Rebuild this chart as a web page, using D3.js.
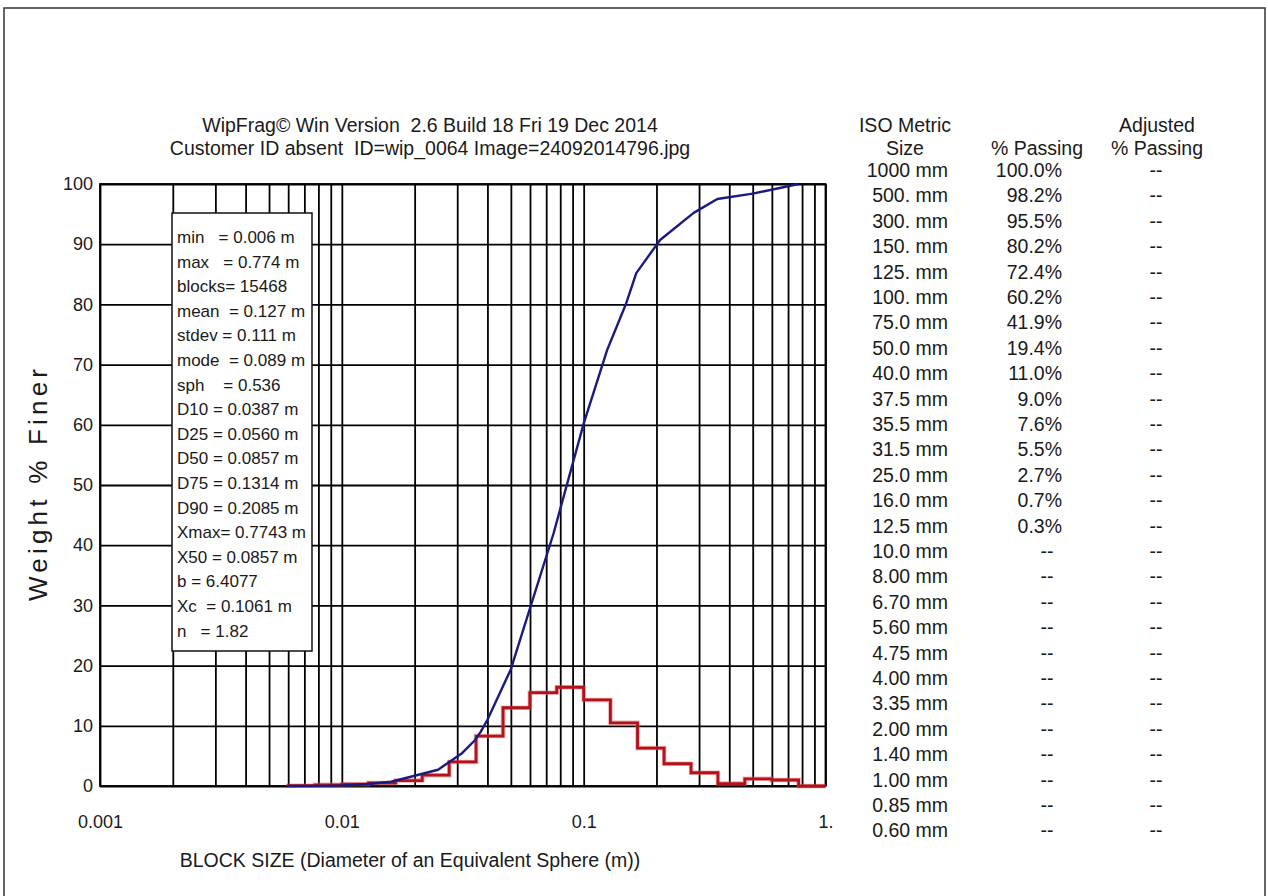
<!DOCTYPE html>
<html>
<head>
<meta charset="utf-8">
<script src="https://cdn.jsdelivr.net/npm/d3@7"></script>
<style>
  html, body { margin: 0; padding: 0; background: #fff; }
  svg { display: block; }
  text { font-family: "Liberation Sans", Arial, sans-serif; fill: #1a1a1a; white-space: pre; }
</style>
</head>
<body>
<svg id="chart" width="1268" height="896"></svg>
<script>
// ---------------- DATA ----------------
const titleLines = [
  "WipFrag\u00A9 Win Version  2.6 Build 18 Fri 19 Dec 2014",
  "Customer ID absent  ID=wip_0064 Image=24092014796.jpg"
];
const xTickValues = [0.001, 0.01, 0.1, 1];
const xTickLabels = ["0.001", "0.01", "0.1", "1."];
const yTickValues = [0, 10, 20, 30, 40, 50, 60, 70, 80, 90, 100];

// cumulative % passing curve (size in m, % finer)
const cumSizes   = [0.006, 0.008, 0.01, 0.0125, 0.016, 0.025, 0.0315, 0.0355, 0.0375, 0.04, 0.05, 0.075, 0.1, 0.125, 0.15, 0.165, 0.207, 0.285, 0.357, 0.5, 0.774];
const cumPassing = [0,     0.02,  0.08, 0.3,    0.7,   2.7,   5.5,    7.6,    9.0,    11.0, 19.4, 41.9,  60.2, 72.4,  80.2, 85.2,  90.7,  95.2,  97.5,  98.4, 100];

// histogram (% weight in each size class)
const binEdges = [0.006, 0.00774, 0.01, 0.0129, 0.0167, 0.0215, 0.0278, 0.0359, 0.0464, 0.0599, 0.0774, 0.1, 0.129, 0.167, 0.215, 0.278, 0.359, 0.464, 0.599, 0.774, 1.0];
const binWeights = [0.05, 0.2, 0.3, 0.5, 0.9, 1.8, 4.0, 8.3, 13.0, 15.5, 16.4, 14.3, 10.5, 6.3, 3.7, 2.2, 0.4, 1.2, 1.0, 0.0];

const statLines = [
  "min   = 0.006 m", "max   = 0.774 m", "blocks= 15468", "mean  = 0.127 m",
  "stdev = 0.111 m", "mode  = 0.089 m", "sph    = 0.536", "D10 = 0.0387 m",
  "D25 = 0.0560 m", "D50 = 0.0857 m", "D75 = 0.1314 m", "D90 = 0.2085 m",
  "Xmax= 0.7743 m", "X50 = 0.0857 m", "b = 6.4077", "Xc  = 0.1061 m", "n   = 1.82"
];

const tableHeader1 = ["ISO Metric", "", "Adjusted"];
const tableHeader2 = ["Size", "% Passing", "% Passing"];
const isoSizes = ["1000 mm","500. mm","300. mm","150. mm","125. mm","100. mm","75.0 mm","50.0 mm","40.0 mm","37.5 mm","35.5 mm","31.5 mm","25.0 mm","16.0 mm","12.5 mm","10.0 mm","8.00 mm","6.70 mm","5.60 mm","4.75 mm","4.00 mm","3.35 mm","2.00 mm","1.40 mm","1.00 mm","0.85 mm","0.60 mm"];
const isoPassing = ["100.0%","98.2%","95.5%","80.2%","72.4%","60.2%","41.9%","19.4%","11.0%","9.0%","7.6%","5.5%","2.7%","0.7%","0.3%","--","--","--","--","--","--","--","--","--","--","--","--"];
const adjPassing = isoSizes.map(() => "--");

const xAxisTitle = "BLOCK SIZE (Diameter of an Equivalent Sphere (m))";
const yAxisTitle = "Weight % Finer";

// ---------------- LAYOUT ----------------
const svg = d3.select("#chart");
const L = 100, R = 825.5, T = 184, B = 786;
const x = d3.scaleLog().domain([0.001, 1]).range([L, R]);
const y = d3.scaleLinear().domain([0, 100]).range([B, T]);
const FONT = "Liberation Sans, Arial, sans-serif";

svg.append("rect").attr("width", 1268).attr("height", 896).attr("fill", "#fff");
// outer frame
svg.append("path")
  .attr("d", "M4,900 L4,8 L1265,8 L1265,900")
  .attr("fill", "none").attr("stroke", "#333").attr("stroke-width", 1.5);

// titles
svg.selectAll("text.title").data(titleLines).join("text")
  .attr("class", "title")
  .attr("x", 430).attr("y", (d, i) => 132 + i * 22.5)
  .attr("text-anchor", "middle").attr("font-size", 19.5)
  .text(d => d);

// gridlines (vertical) using axis
const gridTicks = x.ticks(30);
svg.append("g").attr("transform", `translate(0,${B})`)
  .call(d3.axisBottom(x).tickValues(gridTicks).tickSize(-(B - T)).tickFormat(""))
  .call(g => g.select(".domain").remove())
  .call(g => g.selectAll("line").attr("stroke", "#000").attr("stroke-width", 1.8));

// y axis with gridlines
svg.append("g").attr("transform", `translate(${L},0)`)
  .call(d3.axisLeft(y).tickValues(yTickValues).tickSize(-(R - L)).tickPadding(7))
  .call(g => g.select(".domain").remove())
  .call(g => g.selectAll("line").attr("stroke", "#000").attr("stroke-width", 1.8))
  .call(g => g.selectAll("text").attr("font-size", 18).attr("font-family", FONT).attr("fill", "#1a1a1a"));

// x axis labels
svg.append("g").attr("transform", `translate(0,${B})`)
  .call(d3.axisBottom(x).tickValues(xTickValues).tickSize(0).tickPadding(29)
    .tickFormat((d, i) => xTickLabels[i]))
  .call(g => g.select(".domain").remove())
  .call(g => g.selectAll("text").attr("font-size", 18).attr("font-family", FONT).attr("fill", "#1a1a1a"));

// plot frame
svg.append("rect").attr("x", L).attr("y", T).attr("width", R - L).attr("height", B - T)
  .attr("fill", "none").attr("stroke", "#000").attr("stroke-width", 1.8);

// histogram step line
const stepPts = [[binEdges[0], 0]];
binWeights.forEach((w, i) => {
  stepPts.push([binEdges[i], w]);
  stepPts.push([binEdges[i + 1], w]);
});
stepPts.push([binEdges[binEdges.length - 1], 0]);
const line = d3.line().x(d => x(d[0])).y(d => y(d[1]));
svg.append("path").attr("d", line(stepPts))
  .attr("fill", "none").attr("stroke", "#e06060").attr("stroke-width", 4.5).attr("stroke-opacity", 0.5);
svg.append("path").attr("d", line(stepPts))
  .attr("fill", "none").attr("stroke", "#b3121c").attr("stroke-width", 2.8)
  .attr("stroke-linejoin", "miter");

// cumulative curve
svg.append("path").attr("d", line(cumSizes.map((s, i) => [s, cumPassing[i]])))
  .attr("fill", "none").attr("stroke", "#1a1a80").attr("stroke-width", 2.4)
  .attr("stroke-linejoin", "round");

// stats box
const sb = svg.append("g");
sb.append("rect").attr("x", 172).attr("y", 213).attr("width", 140).attr("height", 438)
  .attr("fill", "#fff").attr("stroke", "#111").attr("stroke-width", 1.5);
sb.selectAll("text").data(statLines).join("text")
  .attr("x", 177).attr("y", (d, i) => 243 + i * 24.6)
  .attr("font-size", 17)
  .text(d => d);

// axis titles
svg.append("text").attr("x", 410).attr("y", 867).attr("text-anchor", "middle")
  .attr("font-size", 19.5).text(xAxisTitle);
svg.append("text").attr("transform", "translate(47,485) rotate(-90)")
  .attr("text-anchor", "middle").attr("font-size", 26)
  .attr("textLength", 232).attr("lengthAdjust", "spacing")
  .text(yAxisTitle);

// table
const tb = svg.append("g").attr("font-size", 19.5);
const hdrX = [905, 1037, 1157];
tb.selectAll("text.h1").data(tableHeader1).join("text").attr("class", "h1")
  .attr("x", (d, i) => hdrX[i]).attr("y", 132).attr("text-anchor", "middle").text(d => d);
tb.selectAll("text.h2").data(tableHeader2).join("text").attr("class", "h2")
  .attr("x", (d, i) => hdrX[i]).attr("y", 154.5).attr("text-anchor", "middle").text(d => d);
const rowY = i => 177 + i * 25.4;
tb.selectAll("text.sz").data(isoSizes).join("text").attr("class", "sz")
  .attr("x", 948).attr("y", (d, i) => rowY(i)).attr("text-anchor", "end").text(d => d);
tb.selectAll("text.ps").data(isoPassing).join("text").attr("class", "ps")
  .attr("x", d => d === "--" ? 1047 : 1062).attr("y", (d, i) => rowY(i))
  .attr("text-anchor", d => d === "--" ? "middle" : "end").text(d => d);
tb.selectAll("text.ad").data(adjPassing).join("text").attr("class", "ad")
  .attr("x", 1156).attr("y", (d, i) => rowY(i)).attr("text-anchor", "middle").text(d => d);
</script>
</body>
</html>
